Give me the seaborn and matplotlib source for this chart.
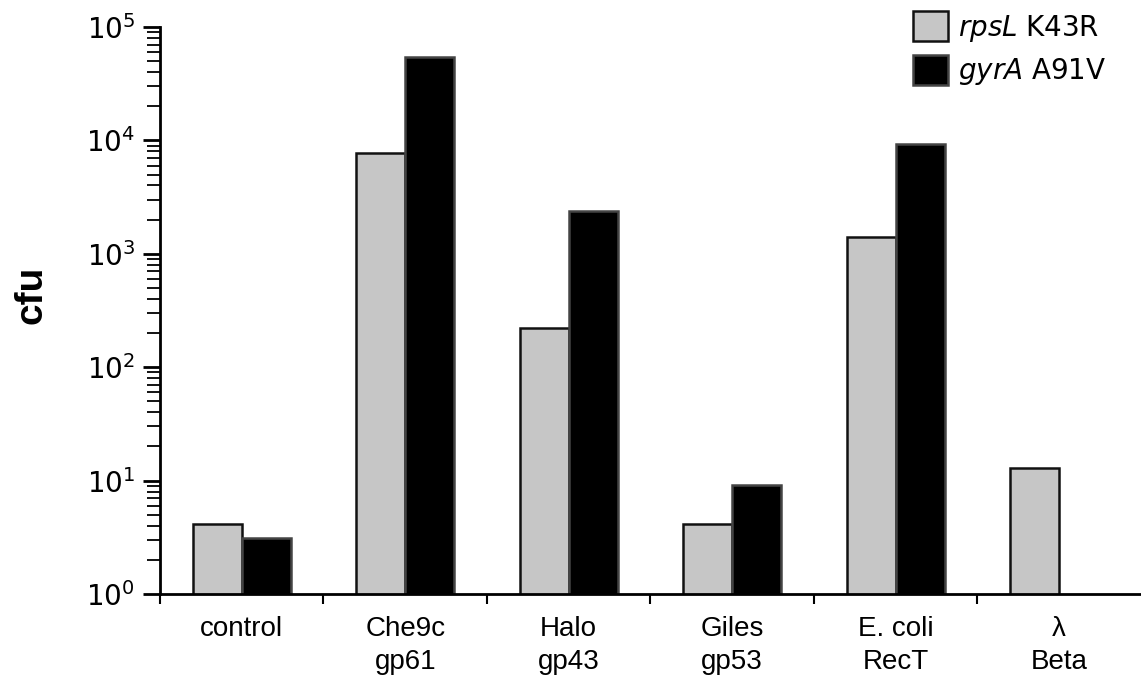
import matplotlib
matplotlib.use("Agg")
import matplotlib.pyplot as plt
import pandas as pd
import seaborn as sns

categories = ["control", "Che9c\ngp61", "Halo\ngp43", "Giles\ngp53", "E. coli\nRecT", "λ\nBeta"]
strains = [r"$\it{rpsL}$ K43R", r"$\it{gyrA}$ A91V"]
rpsl_cfu = [4.1, 7800, 220, 4.1, 1400, 12.8]
gyra_cfu = [3.1, 54000, 2400, 9.1, 9300, None]
colors = ["#c6c6c6", "#000000"]
edges = ["#111111", "#444444"]

sns.set_style("ticks", {"text.color": "black", "xtick.color": "black",
                        "ytick.color": "black", "axes.edgecolor": "black",
                        "axes.labelcolor": "black"})
plt.rcParams["font.family"] = ["DejaVu Sans"]
plt.rcParams["mathtext.fontset"] = "dejavusans"

df = pd.DataFrame({
    "group": categories * 2,
    "strain": [strains[0]] * len(categories) + [strains[1]] * len(categories),
    "cfu": rpsl_cfu + gyra_cfu,
})

fig = plt.figure(figsize=(11.41, 6.81), dpi=100)
ax = fig.add_axes([0.1402, 0.1278, 0.8598, 0.8326])
ax.set_yscale("log", nonpositive="clip")

sns.barplot(data=df, x="group", y="cfu", hue="strain", hue_order=strains,
            order=categories, palette=colors, width=0.6,
            saturation=1, ax=ax)

for i, patch in enumerate(ax.patches[:12]):
    patch.set_edgecolor(edges[i // 6])
    patch.set_linewidth(1.8)

ax.set_ylim(1, 1e5)
ax.set_xlim(-0.5, 5.5)

# boundaries get tick marks, labels sit at category centres
ax.set_xticks([i + 0.5 for i in range(-1, 5)])
ax.set_xticklabels([])
ax.set_xticks(range(len(categories)), minor=True)
ax.set_xticklabels(categories, minor=True, family="Liberation Sans", fontsize=20)
for lbl in ax.get_xticklabels(minor=True):
    lbl.set_linespacing(1.35)
ax.tick_params(axis="x", which="major", direction="out", length=7, width=1.5)
ax.tick_params(axis="x", which="minor", length=0, pad=16)

ax.tick_params(axis="y", which="major", direction="out", length=12, width=2, labelsize=20, pad=6)
ax.tick_params(axis="y", which="minor", direction="out", length=9.5, width=1.3)

for side in ["top", "right"]:
    ax.spines[side].set_visible(False)
for side in ["left", "bottom"]:
    ax.spines[side].set_linewidth(2)

ax.set_xlabel("")
ax.set_ylabel("cfu", family="Liberation Sans", fontsize=28, fontweight="bold")
ax.yaxis.set_label_coords(-0.113, 0.527)

handles, labels = ax.get_legend_handles_labels()
for h, e in zip(handles, edges):
    h.set_edgecolor(e)
    h.set_linewidth(1.8)
ax.legend(handles, labels, loc="upper left", bbox_to_anchor=(0.768, 1.028),
          frameon=False, fontsize=20, handlelength=1.25, handleheight=1.3,
          handletextpad=0.36, labelspacing=0.4, borderpad=0, borderaxespad=0)

fig.savefig("out.png", dpi=100)
plt.close(fig)
